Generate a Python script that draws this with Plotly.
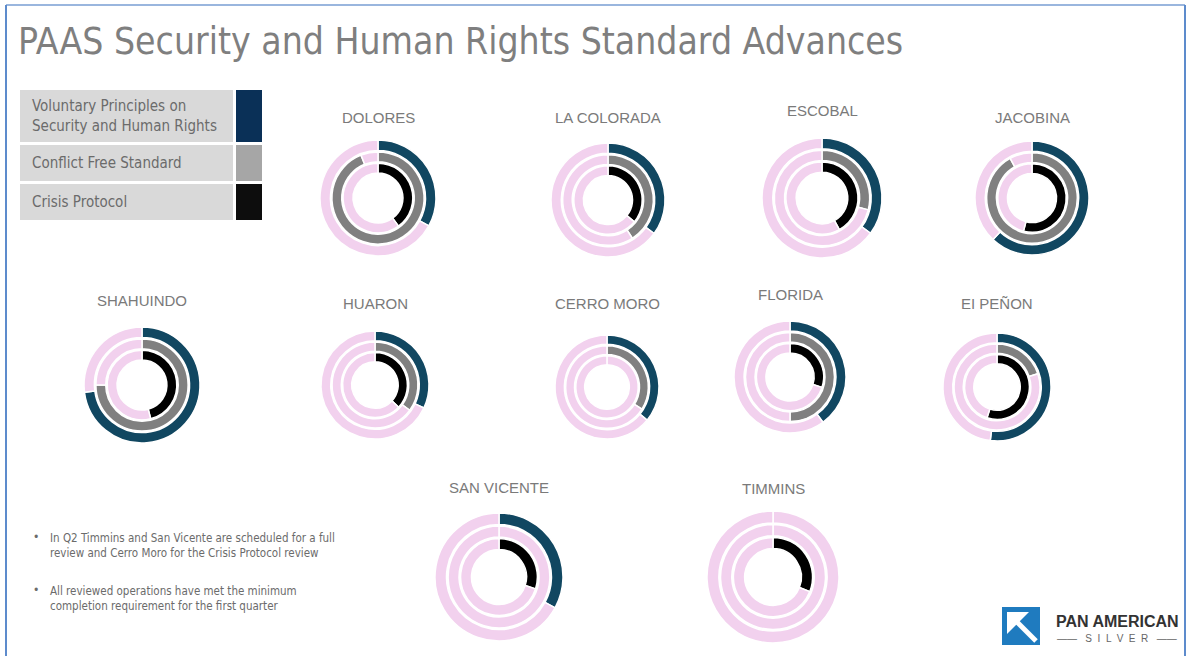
import plotly.graph_objects as go

# ---------------- data ----------------
sites = ["DOLORES", "LA COLORADA", "ESCOBAL", "JACOBINA",
         "SHAHUINDO", "HUARON", "CERRO MORO", "FLORIDA", "EI PEÑON",
         "SAN VICENTE", "TIMMINS"]
vp_pct = [33, 35, 35, 62, 73, 32, 36, 40, 52, 33, 0]   # Voluntary Principles (outer ring)
cf_pct = [94, 41, 29, 92, 75, 35, 34, 50, 20, 0, 0]    # Conflict Free Standard (middle ring)
cp_pct = [40, 36, 42, 54, 46, 37, 0, 30, 55, 30, 31]   # Crisis Protocol (inner ring)
legend_labels = ["Voluntary Principles on<br>Security and Human Rights",
                 "Conflict Free Standard", "Crisis Protocol"]
bullets = ["In Q2 Timmins and San Vicente are scheduled for a full<br>review and Cerro Moro for the Crisis Protocol review",
           "All reviewed operations have met the minimum<br>completion requirement for the first quarter"]

# ---------------- layout helpers ----------------
W, H = 1188, 656
def fx(x): return x / W
def fy(y): return 1 - y / H

# donut centre x, centre y, outer radius, title y (pixels)
pos = [(378, 198, 58, 117), (608, 200, 57, 117), (822, 198, 60, 111), (1032, 198, 57, 117),
       (142, 385, 58, 300), (375, 385, 54, 303), (607, 387, 52, 303), (790, 377, 56, 294),
       (997, 387, 54, 303), (499, 577, 64, 487), (773, 577, 66, 488)]

NAVY, GRAY, BLACK, PINK = "#114761", "#808080", "#000000", "#f2d1ee"
rings = [(vp_pct, NAVY, 1.00, 0.82), (cf_pct, GRAY, 0.795, 0.625), (cp_pct, BLACK, 0.60, 0.43)]

COND = "DejaVu Sans Condensed, Liberation Sans Narrow, sans-serif"

fig = go.Figure()
for i, name in enumerate(sites):
    cx, cy, R, ty = pos[i]
    for vals, col, ro, ri in rings:
        v = vals[i]
        r = R * ro
        fig.add_trace(go.Pie(
            values=[max(v, 0.05), 100 - v],
            labels=["done", "remaining"],
            marker=dict(colors=[col if v > 0 else PINK, PINK], line=dict(color="white", width=1.5)),
            hole=ri / ro, sort=False, direction="clockwise", rotation=0,
            textinfo="none", hoverinfo="skip", showlegend=False,
            domain=dict(x=[fx(cx - r), fx(cx + r)], y=[fy(cy + r), fy(cy - r)]),
        ))

annotations = []
shapes = []
for i, name in enumerate(sites):
    cx, cy, R, ty = pos[i]
    annotations.append(dict(x=fx(cx), y=fy(ty), xref="paper", yref="paper", text=name,
                            showarrow=False, xanchor="center", yanchor="middle",
                            font=dict(family="Liberation Sans, Arial, sans-serif", size=15, color="#7a7a7a")))

# title
annotations.append(dict(x=fx(16), y=fy(42), xref="paper", yref="paper",
                        text="PAAS Security and Human Rights Standard Advances",
                        showarrow=False, xanchor="left", yanchor="middle",
                        font=dict(family=COND, size=37, color="#7f7f7f")))

# legend table
rows = [(90, 142), (145, 181), (184, 220)]
sw_cols = ["#0a3057", "#a6a6a6", "#0d0d0d"]
for (y0, y1), lab, c in zip(rows, legend_labels, sw_cols):
    shapes.append(dict(type="rect", xref="paper", yref="paper", x0=fx(20), x1=fx(233), y0=fy(y1), y1=fy(y0),
                       fillcolor="#d9d9d9", line=dict(width=0), layer="below"))
    shapes.append(dict(type="rect", xref="paper", yref="paper", x0=fx(236), x1=fx(262), y0=fy(y1), y1=fy(y0),
                       fillcolor=c, line=dict(width=0), layer="below"))
    annotations.append(dict(x=fx(30), y=fy((y0 + y1) / 2), xref="paper", yref="paper", text=lab,
                            showarrow=False, xanchor="left", yanchor="middle", align="left",
                            font=dict(family=COND, size=15, color="#6b6b6b")))

# bullets
for (yb, txt) in zip([545, 598], bullets):
    annotations.append(dict(x=fx(31), y=fy(yb - 8), xref="paper", yref="paper", text="•",
                            showarrow=False, xanchor="left", yanchor="middle",
                            font=dict(family=COND, size=12, color="#6b6b6b")))
    annotations.append(dict(x=fx(48), y=fy(yb), xref="paper", yref="paper", text=txt,
                            showarrow=False, xanchor="left", yanchor="middle", align="left",
                            font=dict(family=COND, size=11.5, color="#6b6b6b")))

# frame
BL = "#5d8bcc"
shapes += [
    dict(type="line", xref="paper", yref="paper", x0=fx(6), x1=fx(1185), y0=fy(5), y1=fy(5), line=dict(color="#9ab6de", width=2)),
    dict(type="line", xref="paper", yref="paper", x0=fx(6), x1=fx(6), y0=fy(5), y1=0, line=dict(color=BL, width=2)),
    dict(type="line", xref="paper", yref="paper", x0=fx(1185), x1=fx(1185), y0=fy(5), y1=0, line=dict(color=BL, width=2)),
]

# logo
def P(x, y): return f"{fx(x):.5f},{fy(y):.5f}"
shapes.append(dict(type="rect", xref="paper", yref="paper", x0=fx(1002), x1=fx(1040), y0=fy(645), y1=fy(607),
                   fillcolor="#1f7bbf", line=dict(width=0)))
shapes.append(dict(type="path", xref="paper", yref="paper",
                   path=f"M{P(1007,612)} L{P(1029,612)} L{P(1007,634)} Z", fillcolor="white", line=dict(width=0)))
shapes.append(dict(type="line", xref="paper", yref="paper", x0=fx(1017), y0=fy(622), x1=fx(1036), y1=fy(641),
                   line=dict(color="white", width=5)))
annotations.append(dict(x=fx(1117), y=fy(621), xref="paper", yref="paper", text="<b>PAN AMERICAN</b>",
                        showarrow=False, xanchor="center", yanchor="middle",
                        font=dict(family="Liberation Sans, Arial, sans-serif", size=16, color="#333333")))
annotations.append(dict(x=fx(1117), y=fy(638), xref="paper", yref="paper", text="——   S  I  L  V  E  R   ——",
                        showarrow=False, xanchor="center", yanchor="middle",
                        font=dict(family="Liberation Sans, Arial, sans-serif", size=10, color="#666666")))

fig.update_layout(width=W, height=H, margin=dict(l=0, r=0, t=0, b=0),
                  paper_bgcolor="white", plot_bgcolor="white",
                  annotations=annotations, shapes=shapes, showlegend=False)

fig.write_html("out.html", config={"displayModeBar": False},
               post_script="document.body.style.margin='0';")
